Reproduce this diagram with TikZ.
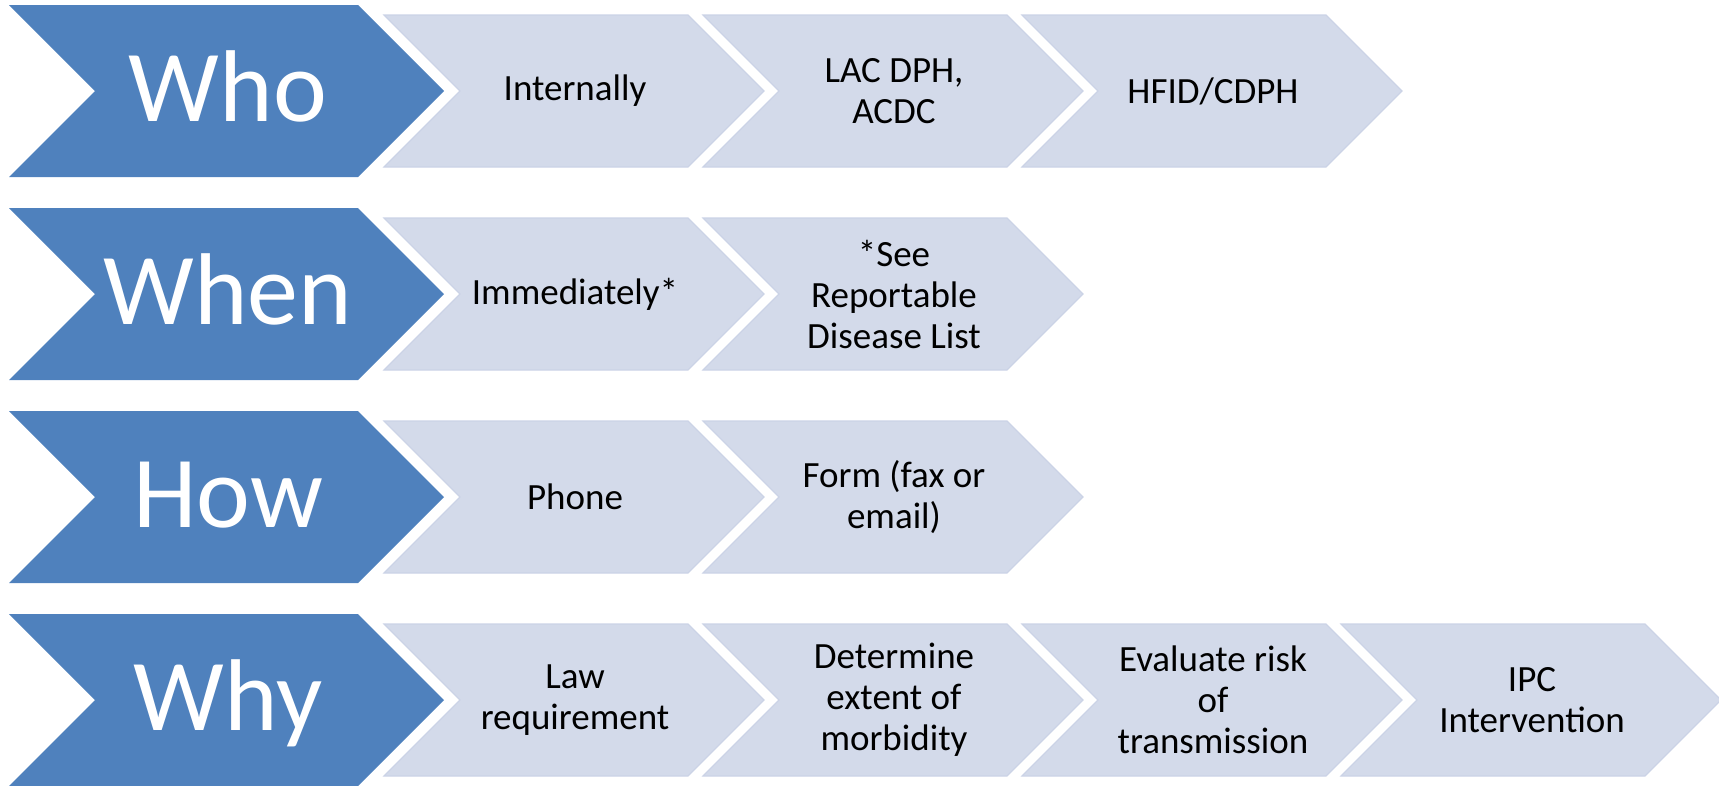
\documentclass[tikz,border=0pt]{standalone}
\usepackage{fontspec}
\setmainfont{Carlito}
\definecolor{chevblue}{HTML}{4F81BD}
\definecolor{chevlight}{HTML}{D3DAEA}
\definecolor{chevedge}{HTML}{CBD3E6}
\begin{document}
\begin{tikzpicture}[x=1pt, y=-1pt, line join=miter,
  head/.style={fill=chevblue},
  sub/.style={fill=chevlight, draw=chevedge, line width=1.2pt},
  headtxt/.style={text=white, anchor=base, inner sep=0pt, font=\fontsize{102}{110}\selectfont},
  subtxt/.style={align=center, font=\fontsize{37}{41}\selectfont}]
\useasboundingbox (0,0) rectangle (1719,785);
% big blue arrows on the left
\foreach \lab [count=\r from 0] in {Who,When,How,Why}{
  \pgfmathsetmacro\c{91+203*\r}
  \fill[head] (9,\c-86) -- (358,\c-86) -- (444,\c) -- (358,\c+86) -- (9,\c+86) -- (95,\c) -- cycle;
  \node[headtxt] (h\r) at (228,\c+30) {\lab};
}
% who
\foreach \lab [count=\k from 0] in {Internally,{LAC DPH,\\ACDC},HFID/CDPH}{
  \pgfmathsetmacro\L{384+319*\k}
  \filldraw[sub] (\L,15) -- (\L+304,15) -- (\L+380,91) -- (\L+304,167) -- (\L,167) -- (\L+76,91) -- cycle;
  \node[subtxt] (who\k) at (\L+191,91) {\lab};
}
% when
\foreach \lab [count=\k from 0] in {Immediately*,{*See\\Reportable\\Disease List}}{
  \pgfmathsetmacro\L{384+319*\k}
  \filldraw[sub] (\L,218) -- (\L+304,218) -- (\L+380,294) -- (\L+304,370) -- (\L,370) -- (\L+76,294) -- cycle;
  \node[subtxt] (when\k) at (\L+191,294) {\lab};
}
% how
\foreach \lab [count=\k from 0] in {Phone,{Form (fax or\\email)}}{
  \pgfmathsetmacro\L{384+319*\k}
  \filldraw[sub] (\L,421) -- (\L+304,421) -- (\L+380,497) -- (\L+304,573) -- (\L,573) -- (\L+76,497) -- cycle;
  \node[subtxt] (how\k) at (\L+191,497) {\lab};
}
% why
\foreach \lab [count=\k from 0] in {{Law\\requirement},{Determine\\extent of\\morbidity},{Evaluate risk\\of\\transmission},{IPC\\Intervention}}{
  \pgfmathsetmacro\L{384+319*\k}
  \filldraw[sub] (\L,624) -- (\L+304,624) -- (\L+380,700) -- (\L+304,776) -- (\L,776) -- (\L+76,700) -- cycle;
  \node[subtxt] (why\k) at (\L+191,700) {\lab};
}
\end{tikzpicture}
\end{document}
